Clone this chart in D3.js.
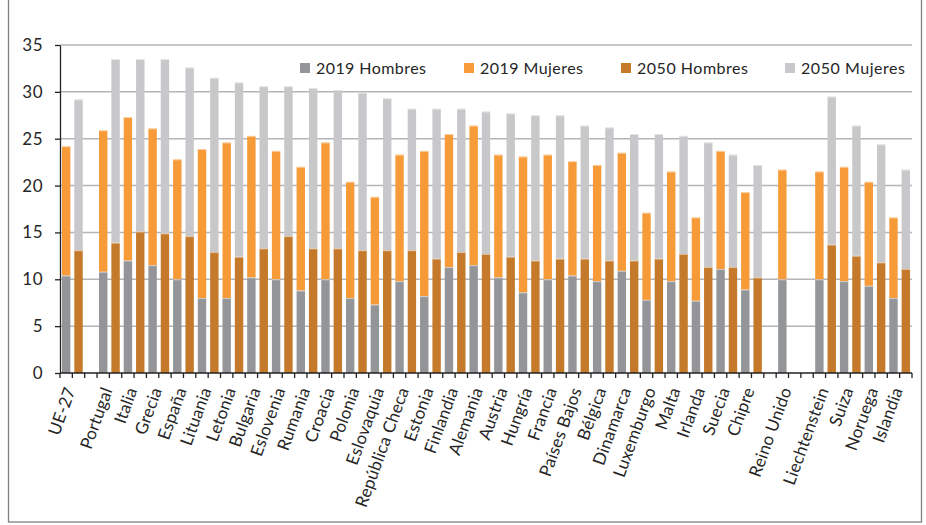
<!DOCTYPE html>
<html lang="es">
<head>
<meta charset="utf-8">
<script src="https://cdn.jsdelivr.net/npm/d3@7"></script>
<style>
  html, body { margin: 0; padding: 0; background: #fff; }
  svg { display: block; font-family: Lato, "Open Sans", sans-serif; }
</style>
</head>
<body>
<svg id="chart" width="926" height="525"></svg>
<script>
// Países (en orden del gráfico)
const countries = [
  "UE-27", "Portugal", "Italia", "Grecia", "España", "Lituania", "Letonia",
  "Bulgaria", "Eslovenia", "Rumania", "Croacia", "Polonia", "Eslovaquia",
  "República Checa", "Estonia", "Finlandia", "Alemania", "Austria", "Hungría",
  "Francia", "Países Bajos", "Bélgica", "Dinamarca", "Luxemburgo", "Malta",
  "Irlanda", "Suecia", "Chipre", "Reino Unido", "Liechtenstein", "Suiza",
  "Noruega", "Islandia"
];
// Países tras los que se deja un hueco
const gapAfter = ["UE-27", "Chipre", "Reino Unido"];

const hombres2019 = [10.4, 10.8, 12.0, 11.5, 10.0, 8.0, 8.0, 10.2, 10.0, 8.8, 10.0, 8.0, 7.3,
  9.8, 8.2, 11.3, 11.5, 10.2, 8.6, 10.0, 10.4, 9.8, 10.9, 7.8, 9.8, 7.7, 11.1, 8.9, 10.0,
  10.0, 9.8, 9.3, 8.0];
const mujeres2019 = [13.8, 15.1, 15.3, 14.6, 12.8, 15.9, 16.6, 15.1, 13.7, 13.2, 14.6, 12.4, 11.5,
  13.5, 15.5, 14.2, 14.9, 13.1, 14.5, 13.3, 12.2, 12.4, 12.6, 9.3, 11.7, 8.9, 12.6, 10.4, 11.7,
  11.5, 12.2, 11.1, 8.6];
const hombres2050 = [13.1, 13.9, 15.1, 14.9, 14.6, 12.9, 12.4, 13.3, 14.6, 13.3, 13.3, 13.1, 13.1,
  13.1, 12.2, 12.9, 12.7, 12.4, 12.0, 12.2, 12.2, 12.0, 12.0, 12.2, 12.7, 11.3, 11.3, 10.2, null,
  13.7, 12.5, 11.8, 11.1];
const mujeres2050 = [16.1, 19.6, 18.4, 18.6, 18.0, 18.6, 18.6, 17.3, 16.0, 17.1, 16.9, 16.8, 16.2,
  15.1, 16.0, 15.3, 15.2, 15.3, 15.5, 15.3, 14.2, 14.2, 13.5, 13.3, 12.6, 13.3, 12.0, 12.0, null,
  15.8, 13.9, 12.6, 10.6];

const seriesNames = ["2019 Hombres", "2019 Mujeres", "2050 Hombres", "2050 Mujeres"];
const seriesColors = ["#939598", "#F79B39", "#C47A2A", "#C8C8CA"];
const yTicks = [0, 5, 10, 15, 20, 25, 30, 35];

// Cada barra ocupa una posición propia en el eje: 2019, 2050 y huecos
const slots = [];
countries.forEach((c, i) => {
  slots.push({ label: c, year: 2019, h: hombres2019[i], m: mujeres2019[i] });
  slots.push({ label: "", year: 2050, h: hombres2050[i], m: mujeres2050[i] });
  if (gapAfter.includes(c)) slots.push({ label: "", year: null });
});

const svg = d3.select("#chart");
const margin = { left: 60, right: 14, top: 45, bottom: 152 };
const W = 926, H = 525;

const x = d3.scaleBand()
  .domain(d3.range(slots.length))
  .range([margin.left, W - margin.right])
  .paddingInner(0.32)
  .paddingOuter(0.16);

const y = d3.scaleLinear().domain([0, 35]).range([H - margin.bottom, margin.top]);

// Marco exterior
svg.append("rect")
  .attr("x", 8.5).attr("y", -2).attr("width", 913).attr("height", 524)
  .attr("fill", "none").attr("stroke", "#808080").attr("stroke-width", 1.3);

// Líneas de cuadrícula
svg.append("g").selectAll("line")
  .data(yTicks.filter(d => d > 0))
  .join("line")
  .attr("x1", margin.left).attr("x2", W - margin.right)
  .attr("y1", d => y(d)).attr("y2", d => y(d))
  .attr("stroke", "#B5B5B7").attr("stroke-width", 1.5);

// Barras apiladas
const bars = svg.append("g");
slots.forEach((s, i) => {
  if (s.year === null || s.h == null) return;
  const c1 = s.year === 2019 ? seriesColors[0] : seriesColors[2];
  const c2 = s.year === 2019 ? seriesColors[1] : seriesColors[3];
  bars.append("rect")
    .attr("x", x(i)).attr("width", x.bandwidth())
    .attr("y", y(s.h)).attr("height", y(0) - y(s.h))
    .attr("fill", c1);
  bars.append("rect")
    .attr("x", x(i)).attr("width", x.bandwidth())
    .attr("y", y(s.h + s.m)).attr("height", y(s.h) - y(s.h + s.m))
    .attr("fill", c2);
  // fino borde claro en el tope de cada segmento
  [s.h, s.h + s.m].forEach(v => {
    bars.append("line")
      .attr("x1", x(i)).attr("x2", x(i) + x.bandwidth())
      .attr("y1", y(v) + 0.5).attr("y2", y(v) + 0.5)
      .attr("stroke", "#fff").attr("stroke-opacity", 0.5).attr("stroke-width", 1);
  });
});

// Eje Y
const yAxis = svg.append("g")
  .attr("transform", `translate(${margin.left},0)`)
  .call(d3.axisLeft(y).tickValues(yTicks).tickSize(5).tickPadding(12).tickSizeOuter(0));
yAxis.select(".domain").attr("stroke", "#222").attr("stroke-width", 1.3);
yAxis.selectAll(".tick line").attr("stroke", "#222").attr("stroke-width", 1.3);
yAxis.selectAll("text").attr("font-size", 17).attr("fill", "#262626")
  .attr("letter-spacing", 0.5)
  .attr("font-family", "Lato, 'Open Sans', sans-serif");

// Eje X: marcas entre posiciones
const x0 = x.range()[0];
const xg = svg.append("g");
xg.selectAll("line.tick")
  .data(d3.range(slots.length + 1))
  .join("line")
  .attr("x1", i => x0 + i * x.step()).attr("x2", i => x0 + i * x.step())
  .attr("y1", y(0)).attr("y2", y(0) + 5)
  .attr("stroke", "#222").attr("stroke-width", 1.3);
xg.append("line")
  .attr("x1", margin.left).attr("x2", W - margin.right)
  .attr("y1", y(0)).attr("y2", y(0))
  .attr("stroke", "#222").attr("stroke-width", 1.5);

// Etiquetas de países, giradas
xg.selectAll("text")
  .data(slots.map((s, i) => ({ s, i })).filter(d => d.s.label))
  .join("text")
  .attr("transform", d => `translate(${x(d.i) + x.bandwidth() / 2 + 4},${y(0) + 15}) rotate(-70)`)
  .attr("text-anchor", "end")
  .attr("dy", "0.35em")
  .attr("font-size", 17)
  .attr("letter-spacing", 0.2)
  .attr("fill", "#262626")
  .text(d => d.s.label);

// Leyenda
const legendX = [300, 464, 621, 785];
const legendW = [110, 103, 111, 104];
const lg = svg.append("g");
seriesNames.forEach((name, i) => {
  lg.append("rect")
    .attr("x", legendX[i]).attr("y", 63).attr("width", 10).attr("height", 10)
    .attr("fill", seriesColors[i]);
  lg.append("text")
    .attr("x", legendX[i] + 16).attr("y", 68).attr("dy", "0.35em")
    .attr("font-size", 16).attr("fill", "#262626")
    .attr("textLength", legendW[i]).attr("lengthAdjust", "spacing")
    .text(name);
});
</script>
</body>
</html>
